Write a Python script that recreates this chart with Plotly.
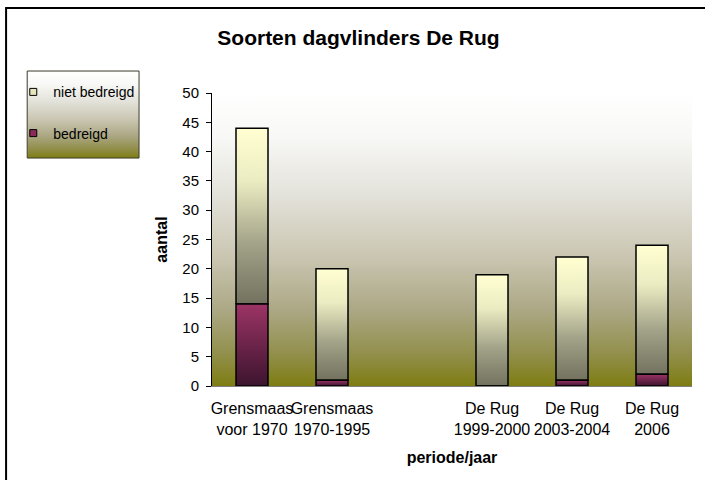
import base64
import plotly.graph_objects as go

# categories (empty slot is a gap in the original chart)
categories = ["Grensmaas<br>voor 1970", "Grensmaas<br>1970-1995", "",
              "De Rug<br>1999-2000", "De Rug<br>2003-2004", "De Rug<br>2006"]
bedreigd = [14, 1, None, 0, 1, 2]
niet_bedreigd = [30, 19, None, 19, 21, 22]
y_ticks = list(range(0, 55, 5))

FONT = "Liberation Sans, Arial, sans-serif"
HALF = 0.2  # half bar width in category units

CREAM_SCALE = [[0, "#72725f"], [0.35, "#a4a48a"], [0.7, "#ececc2"], [1, "#ffffd2"]]
PLUM_SCALE = [[0, "#3c142e"], [1, "#9c3466"]]


def svg_gradient(stops):
    # vertical gradient as an svg data uri, used for plot area and legend backgrounds
    parts = "".join('<stop offset="%s" stop-color="%s"/>' % (o, c) for o, c in stops)
    svg = ('<svg xmlns="http://www.w3.org/2000/svg" width="100" height="100" preserveAspectRatio="none">'
           '<defs><linearGradient id="g" x1="0" y1="0" x2="0" y2="1">%s</linearGradient></defs>'
           '<rect width="100" height="100" fill="url(#g)"/></svg>') % parts
    return "data:image/svg+xml;base64," + base64.b64encode(svg.encode()).decode()


bg_stops = [(0, "#ffffff"), (0.15, "#f8f8f6"), (0.35, "#e3e2da"), (0.55, "#cbc7b3"),
            (0.74, "#aca885"), (0.89, "#928f4c"), (1, "#7e7d12")]

fig = go.Figure()


def add_segment(i, base, height, scale):
    top = base + height
    fig.add_trace(go.Scatter(
        x=[i - HALF, i + HALF, i + HALF, i - HALF, i - HALF],
        y=[base, base, top, top, base],
        mode="lines", fill="toself",
        fillgradient=dict(type="vertical", colorscale=scale),
        line=dict(color="black", width=1.5),
        showlegend=False, hoverinfo="skip",
    ))


for i, (b, n) in enumerate(zip(bedreigd, niet_bedreigd)):
    if b is None:
        continue
    add_segment(i, b, n, CREAM_SCALE)
    add_segment(i, 0, b, PLUM_SCALE)

# legend entries (small squares like the original)
fig.add_trace(go.Scatter(x=[None], y=[None], mode="markers", name="niet bedreigd",
                         legendgroup="a",
                         marker=dict(symbol="square", size=7, color="#e6e6bc",
                                     line=dict(color="black", width=1))))
fig.add_trace(go.Scatter(x=[None], y=[None], mode="markers", name="bedreigd",
                         legendgroup="b",
                         marker=dict(symbol="square", size=7, color="#8a2a5a",
                                     line=dict(color="black", width=1))))

fig.update_layout(
    width=705, height=480,
    margin=dict(l=212, r=13, t=93, b=94, autoexpand=False),
    paper_bgcolor="white", plot_bgcolor="rgba(0,0,0,0)",
    font=dict(family=FONT, size=15, color="black"),
    title=dict(text="<b>Soorten dagvlinders De Rug</b>", x=0.5085, xanchor="center",
               y=1 - 38 / 480, yanchor="middle", font=dict(size=21)),
    showlegend=True,
    legend=dict(x=-0.414, xanchor="left", y=1.057, yanchor="top",
                bgcolor="rgba(0,0,0,0)", borderwidth=0,
                font=dict(size=14), tracegroupgap=20, traceorder="grouped"),
    images=[
        dict(source=svg_gradient(bg_stops), xref="paper", yref="paper",
             x=0, y=1, sizex=1, sizey=1, sizing="stretch",
             xanchor="left", yanchor="top", layer="below"),
        dict(source=svg_gradient(bg_stops), xref="paper", yref="paper",
             x=-0.385, y=1.075, sizex=0.233, sizey=0.297, sizing="stretch",
             xanchor="left", yanchor="top", layer="below"),
    ],
    shapes=[
        dict(type="rect", xref="paper", yref="paper",
             x0=-0.385, x1=-0.152, y0=0.778, y1=1.075,
             line=dict(color="#3a3a2a", width=1)),
        dict(type="rect", xref="paper", yref="paper",
             x0=-0.429, x1=1.06, y0=-0.4, y1=1.29,
             line=dict(color="black", width=2)),
    ],
)

fig.update_xaxes(
    range=[-0.5, 5.5], tickvals=list(range(len(categories))), ticktext=categories,
    tickfont=dict(size=16), tickangle=0, automargin=False,
    showgrid=False, zeroline=False, showline=True, linecolor="#808080", linewidth=1,
    ticks="", ticklabelstandoff=8,
    title=dict(text="<b>periode/jaar</b>", font=dict(size=16), standoff=14),
)
fig.update_yaxes(
    range=[0, 50], tickvals=y_ticks, showgrid=False, zeroline=False, automargin=False,
    showline=True, linecolor="black", linewidth=1,
    ticks="outside", ticklen=5, tickcolor="black", ticklabelstandoff=4,
    title=dict(text="<b>aantal</b>", font=dict(size=16), standoff=10),
)

# page body margin would shift the chart by 8px
fig.write_html("out.html", config={"displayModeBar": False},
               post_script="document.body.style.margin='0';")
